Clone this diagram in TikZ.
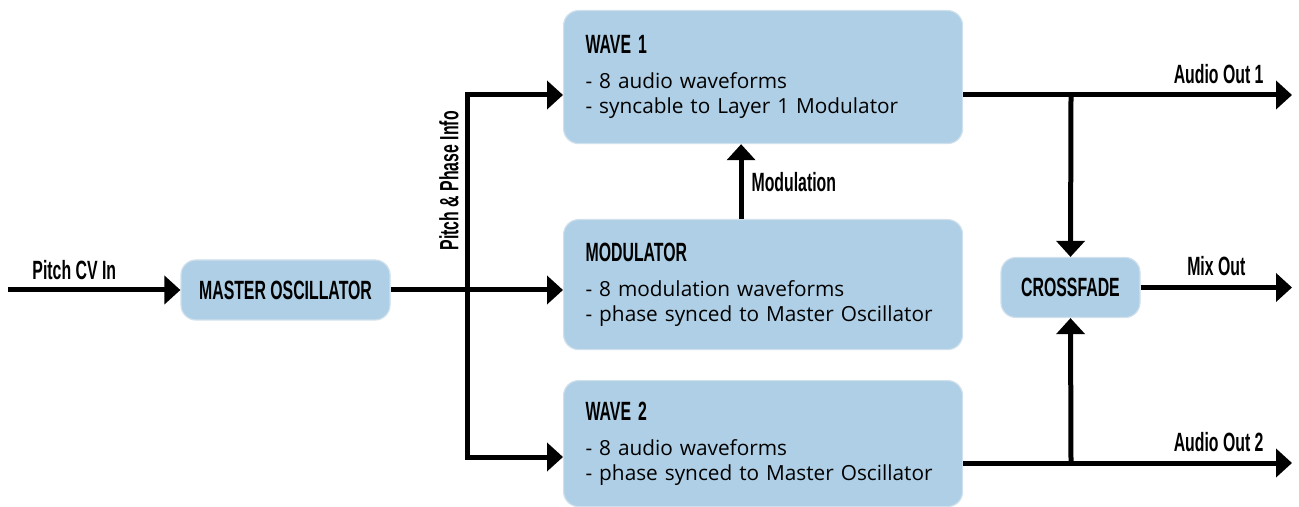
\documentclass[tikz,border=0pt]{standalone}
\usepackage{fontspec}
\setmainfont{Open Sans}
\newfontfamily\dinfont[FakeStretch=0.6]{Liberation Sans}
\usetikzlibrary{arrows.meta,positioning}
\definecolor{boxblue}{RGB}{174,207,229}
\definecolor{boxrim}{RGB}{208,224,236}
\newcommand{\dinlbl}{\dinfont\bfseries\fontsize{13.2}{15}\selectfont}
\newcommand{\boxhead}[1]{{\dinlbl #1}\\[5pt]}
\tikzset{
  flow/.style={line width=2.5pt, -{Triangle[length=8pt,width=14pt]}},
  wire/.style={line width=2.5pt},
  blk/.style={draw=boxrim, fill=boxblue, rounded corners=7.5pt, line width=0.6pt},
  bigbox/.style={blk, anchor=north west, text width=177.5pt, align=left, inner xsep=11pt, font=\fontsize{10.4}{12.5}\selectfont},
  smallbox/.style={blk, font=\dinlbl, minimum height=30pt},
  lbl/.style={font=\dinlbl, inner sep=0pt}
}
\begin{document}
\begin{tikzpicture}[x=0.5pt, y=-0.5pt]
\useasboundingbox (0,0) rectangle (1299,507);
\node[smallbox, minimum width=104.5pt] (master) at (285.5,290) {MASTER OSCILLATOR};
\node[bigbox, minimum height=66.5pt] (wave1) at (563,10) {\boxhead{WAVE 1}- 8 audio waveforms\\- syncable to Layer 1 Modulator};
\node[bigbox, minimum height=65pt] (modulator) at (563,219) {\boxhead{MODULATOR}- 8 modulation waveforms\\- phase synced to Master Oscillator};
\node[bigbox, minimum height=63pt] (wave2) at (563,380) {\boxhead{WAVE 2}- 8 audio waveforms\\- phase synced to Master Oscillator};
\node[smallbox, minimum width=69.5pt] (xfade) at (1070.5,287.5) {CROSSFADE};
\coordinate (cvin) at (8,290);
\coordinate (split) at (467,290);
\coordinate (in1) at (467,95);
\coordinate (in2) at (467,457);
\coordinate (out1) at (1292,95);
\coordinate (outmix) at (1292,287.5);
\coordinate (out2) at (1292,463);
\coordinate (tap1) at (1071,95);
\coordinate (tap2) at (1071,463);
\draw[flow] (cvin) -- (master) node[lbl, at start, anchor=south west, xshift=11pt, yshift=4pt] {Pitch CV In};
\draw[flow] (master) -- (modulator.west |- master);
\draw[flow] (split) |- (wave1.west |- in1) node[lbl, pos=0.28, rotate=90, anchor=south, yshift=3pt] {Pitch \& Phase Info};
\draw[flow] (split) |- (wave2.west |- in2);
\draw[flow] ([xshift=-11pt]modulator.north) -- ([xshift=-11pt]wave1.south) node[lbl, midway, right=4pt] {Modulation};
\draw[flow] (wave1.east |- out1) -- (out1) node[lbl, at end, anchor=south east, xshift=-13pt, yshift=4.5pt] {Audio Out 1};
\draw[flow] (wave2.east |- out2) -- (out2) node[lbl, at end, anchor=south east, xshift=-13pt, yshift=4.5pt] {Audio Out 2};
\draw[flow] (xfade) -- (outmix) node[lbl, midway, above=4.5pt] {Mix Out};
\draw[flow] (tap1) -- (xfade.north);
\draw[flow] (tap2) -- (xfade.south);
\end{tikzpicture}
\end{document}
